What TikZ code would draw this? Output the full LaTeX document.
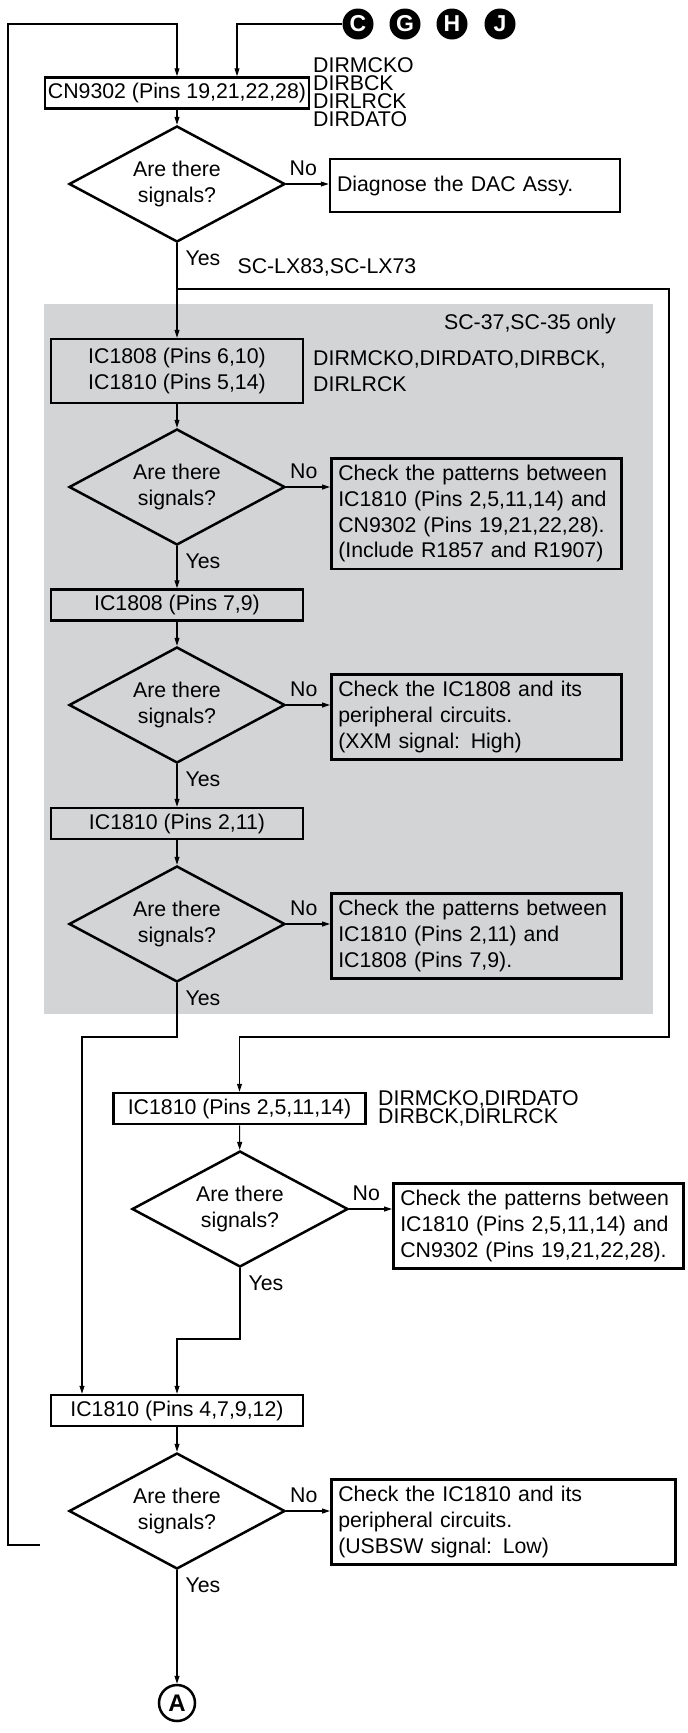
\documentclass[tikz,border=0pt]{standalone}
\usepackage{fontspec}
\setmainfont{Liberation Sans}
\usepackage{tikz}
\usetikzlibrary{arrows.meta,positioning,shapes.geometric,calc}
\definecolor{panelgray}{RGB}{211,212,214}

\begin{document}
\begin{tikzpicture}[
  x=1pt, y=-1pt,
  every node/.style={font=\fontsize{21.3}{25.7}\selectfont},
  pinbox/.style={draw,line width=2.5pt,minimum width=252pt,
                 minimum height=31pt,inner sep=3pt,align=center},
  askbox/.style={draw,diamond,aspect=1.86,line width=2.5pt,
                 minimum width=216pt,minimum height=116pt,inner sep=0pt,align=center},
  fixbox/.style={draw,line width=2.5pt,anchor=north west,
                 text width=276pt,inner sep=7pt,align=left},
  siglbl/.style={anchor=west,align=left,inner sep=0pt},
  lbl/.style={inner sep=0pt},
  nolbl/.style={lbl,pos=0.4,above,yshift=8pt},
  yeslbl/.style={lbl,pos=0,anchor=north west,xshift=8pt,yshift=-7pt},
  jumper/.style={circle,fill=black,text=white,minimum size=31pt,inner sep=0pt,
                 font=\fontsize{23}{23}\selectfont\bfseries},
  arr/.style={-{Triangle[length=8pt,width=5pt]},line width=1.1pt},
]
  \useasboundingbox (0,0) rectangle (688,1733);

  % Panel
  \fill[panelgray] (44,304) rectangle (653,1014);
  \node[lbl,anchor=base east] (only) at (616,329) {SC-37,SC-35 only};

  % Jumps
  \node[jumper] (jC) at (358,24) {C};
  \node[jumper] (jG) at (405,24) {G};
  \node[jumper] (jH) at (452,24) {H};
  \node[jumper] (jJ) at (500,24) {J};

  % Pins
  \node[pinbox] (cn) at (177,93) {CN9302 (Pins 19,21,22,28)};
  \node[pinbox,minimum height=64pt] (ic1) at (177,371)
    {IC1808 (Pins 6,10)\\IC1810 (Pins 5,14)};
  \node[pinbox] (ic2) at (177,605) {IC1808 (Pins 7,9)};
  \node[pinbox] (ic3) at (177,823.5) {IC1810 (Pins 2,11)};
  \node[pinbox] (ic5) at (239.5,1108.5) {IC1810 (Pins 2,5,11,14)};
  \node[pinbox] (ic7) at (177,1410.5) {IC1810 (Pins 4,7,9,12)};

  % Signals
  \node[siglbl,font=\fontsize{21.3}{18}\selectfont] (sigcn) at (313,92)
    {DIRMCKO\\DIRBCK\\DIRLRCK\\DIRDATO};
  \node[siglbl] (sigic1) at (313,371) {DIRMCKO,DIRDATO,DIRBCK,\\DIRLRCK};
  \node[siglbl,font=\fontsize{21.3}{18.5}\selectfont] (sigic5) at (378,1108.5)
    {DIRMCKO,DIRDATO\\DIRBCK,DIRLRCK};

  % Questions
  \node[askbox] (d1) at (177,184) {Are there\\signals?};
  \node[askbox] (d2) at (177,487) {Are there\\signals?};
  \node[askbox] (d3) at (177,705) {Are there\\signals?};
  \node[askbox] (d4) at (177,924) {Are there\\signals?};
  \node[askbox] (d5) at (240,1209) {Are there\\signals?};
  \node[askbox] (d6) at (177,1511) {Are there\\signals?};

  % Fixes
  \node[fixbox,anchor=center,minimum height=53pt] (dac) at (475,185.5)
    {Diagnose the DAC Assy.};
  \node[fixbox] (c1) at (330,457)
    {Check the patterns between\\IC1810 (Pins 2,5,11,14) and\\CN9302 (Pins 19,21,22,28).\\(Include R1857 and R1907)};
  \node[fixbox] (c2) at (330,673)
    {Check the IC1808 and its\\peripheral circuits.\\(XXM signal: High)};
  \node[fixbox] (c3) at (330,892)
    {Check the patterns between\\IC1810 (Pins 2,11) and\\IC1808 (Pins 7,9).};
  \node[fixbox] (c4) at (392,1182)
    {Check the patterns between\\IC1810 (Pins 2,5,11,14) and\\CN9302 (Pins 19,21,22,28).};
  \node[fixbox,text width=330pt] (c5) at (330,1478)
    {Check the IC1810 and its\\peripheral circuits.\\(USBSW signal: Low)};

  \node[draw,circle,line width=2.5pt,minimum size=36pt,inner sep=0pt,
        font=\fontsize{24}{24}\selectfont\bfseries] (endA) at (177,1703) {A};

  % Arrows
  \coordinate (lin) at (40,1545);
  \draw[arr] (lin) -- (8,1545) -- (8,24) -| (cn.north);
  \coordinate (cnin) at ($(cn.north)+(60,0)$);
  \draw[arr] (jC.west) -| (cnin);
  \draw[arr] (cn) -- (d1);
  \draw[arr] (d1.east) -- node[nolbl] {No} (d1.east -| dac.west);
  \draw[arr] (d1) -- node[yeslbl] {Yes} (ic1);

  \coordinate (j1) at (177,289);
  \coordinate (r1) at (669,289);
  \coordinate (r2) at (669,1037);
  \draw[arr] (j1) -- node[lbl,pos=0,anchor=base west,xshift=60pt,yshift=16pt]
    {SC-LX83,SC-LX73} (r1) -- (r2) -| (ic5.north);

  \draw[arr] (ic1) -- (d2);
  \draw[arr] (d2.east) -- node[nolbl] {No} (d2.east -| c1.west);
  \draw[arr] (d2) -- node[yeslbl] {Yes} (ic2);
  \draw[arr] (ic2) -- (d3);
  \draw[arr] (d3.east) -- node[nolbl] {No} (d3.east -| c2.west);
  \draw[arr] (d3) -- node[yeslbl] {Yes} (ic3);
  \draw[arr] (ic3) -- (d4);
  \draw[arr] (d4.east) -- node[nolbl] {No} (d4.east -| c3.west);
  \coordinate (l1) at (82,1037);
  \draw[arr] (d4.south) |- node[yeslbl] {Yes} (l1) -- (l1 |- ic7.north);

  \draw[arr] (ic5) -- (d5);
  \draw[arr] (d5.east) -- node[nolbl] {No} (d5.east -| c4.west);
  \coordinate (m1) at (177,1339);
  \draw[arr] (d5.south) |- node[yeslbl] {Yes} (m1) -- (ic7.north);
  \draw[arr] (ic7) -- (d6);
  \draw[arr] (d6.east) -- node[nolbl] {No} (d6.east -| c5.west);
  \draw[arr] (d6) -- node[yeslbl] {Yes} (endA);
\end{tikzpicture}
\end{document}
